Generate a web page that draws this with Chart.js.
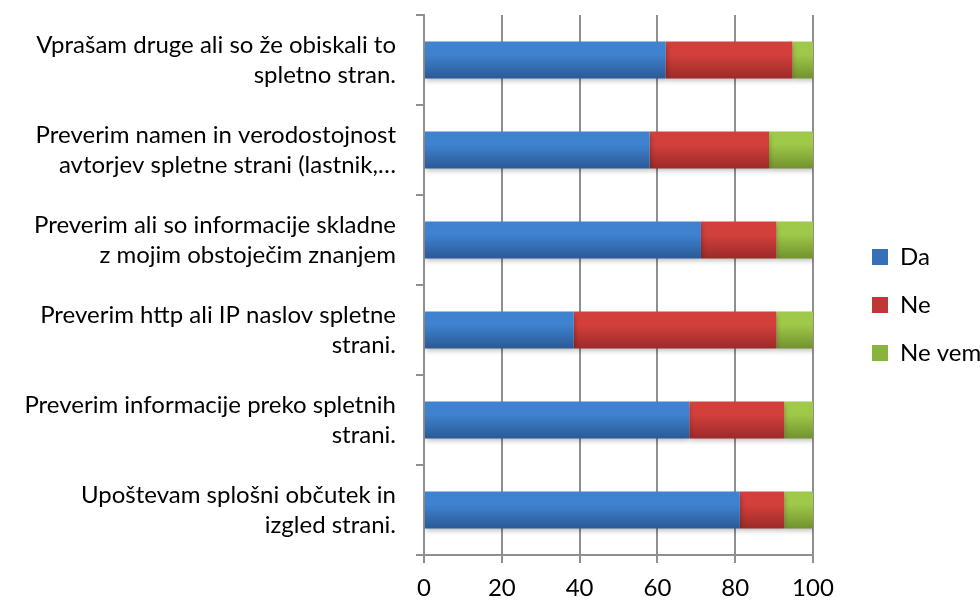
<!DOCTYPE html>
<html>
<head>
<meta charset="utf-8">
<script src="https://cdn.jsdelivr.net/npm/chart.js@4.4.0/dist/chart.umd.min.js"></script>
<style>
html,body{margin:0;padding:0;background:#ffffff;}
#c{display:block;}
</style>
</head>
<body>
<canvas id="c" width="980" height="600"></canvas>
<script>
// ---- data ----
const categories = [
  ["Vprašam druge ali so že obiskali to", "spletno stran."],
  ["Preverim namen in verodostojnost", "avtorjev spletne strani (lastnik,…"],
  ["Preverim ali so informacije skladne", "z mojim obstoječim znanjem"],
  ["Preverim http ali IP naslov spletne", "strani."],
  ["Preverim informacije preko spletnih", "strani."],
  ["Upoštevam splošni občutek in", "izgled strani."]
];
const seriesNames = ["Da", "Ne", "Ne vem"];
const daValues    = [62.1, 58.0, 71.2, 38.5, 68.2, 81.2];
const neValues    = [32.6, 30.7, 19.4, 52.1, 24.4, 11.4];
const neVemValues = [5.3, 11.3, 9.4, 9.4, 7.4, 7.4];
const xTickValues = [0, 20, 40, 60, 80, 100];

// ---- styles ----
const FONT = "Lato";
const palette = [
  {light: "#3f82d0", dark: "#2b5a96", mid: "#3570b8"},
  {light: "#d3403c", dark: "#9c2a28", mid: "#bf3836"},
  {light: "#9ec949", dark: "#72922e", mid: "#8ab23e"}
];

function gradientFill(idx) {
  return function (ctx) {
    const chart = ctx.chart;
    const y = chart.scales && chart.scales.y;
    if (!y || !chart.chartArea || ctx.type !== "data") return palette[idx].mid;
    const c = y.getPixelForValue(ctx.dataIndex);
    const band = y.height / categories.length;
    const half = band * 0.41 / 2;
    const g = chart.ctx.createLinearGradient(0, c - half, 0, c + half);
    g.addColorStop(0, palette[idx].light);
    g.addColorStop(0.35, palette[idx].light);
    g.addColorStop(1, palette[idx].dark);
    return g;
  };
}

const seriesValues = [daValues, neValues, neVemValues];
const datasets = seriesNames.map((name, i) => ({
  label: name,
  data: seriesValues[i],
  backgroundColor: gradientFill(i),
  borderWidth: 0,
  barPercentage: 0.41,
  categoryPercentage: 1.0
}));

const shadowPlugin = {
  id: "barShadow",
  beforeDatasetsDraw(chart) {
    const c = chart.ctx;
    c.save();
    c.shadowColor = "rgba(0,0,0,0.28)";
    c.shadowBlur = 5;
    c.shadowOffsetX = 1;
    c.shadowOffsetY = 3;
  },
  afterDatasetsDraw(chart) {
    chart.ctx.restore();
  }
};

const legendPlace = {
  id: "legendPlace",
  beforeLayout(chart) {
    const lg = chart.legend;
    if (lg && !lg.__patched) {
      const f = lg.fit;
      lg.fit = function () { f.call(this); this.width = 167; };
      lg.__patched = true;
    }
  },
  afterLayout(chart) {
    const lg = chart.legend;
    if (lg) {
      lg.left = 848;
      lg.top -= 5;
    }
  }
};

const gridColor = "#8f8f8f";

new Chart(document.getElementById("c"), {
  type: "bar",
  data: { labels: categories, datasets: datasets },
  plugins: [shadowPlugin, legendPlace],
  options: {
    indexAxis: "y",
    responsive: false,
    animation: false,
    layout: { padding: { top: 15, left: 0, right: 0, bottom: 0 } },
    plugins: {
      tooltip: { enabled: false },
      legend: {
        position: "right",
        labels: {
          boxWidth: 16,
          boxHeight: 16,
          padding: 24,
          color: "#000000",
          font: { family: FONT, size: 24 },
          generateLabels(chart) {
            const items = Chart.defaults.plugins.legend.labels.generateLabels(chart);
            items.forEach((it, i) => {
              it.fillStyle = palette[i].mid;
              it.strokeStyle = palette[i].mid;
              it.lineWidth = 0;
            });
            return items;
          }
        }
      }
    },
    scales: {
      x: {
        stacked: true,
        min: 0,
        max: 100,
        afterBuildTicks(scale) {
          scale.ticks = xTickValues.map(v => ({ value: v }));
        },
        afterFit(scale) { scale.height = 45; },
        grid: {
          color: gridColor,
          lineWidth: 2,
          drawOnChartArea: true,
          drawTicks: true,
          tickLength: 8,
          tickColor: gridColor
        },
        border: { display: true, color: gridColor, width: 2 },
        ticks: {
          color: "#000000",
          font: { family: FONT, size: 24 },
          padding: 11,
          maxRotation: 0
        }
      },
      y: {
        stacked: true,
        afterFit(scale) {
          scale.width = 424;
          scale.paddingTop = 0;
          scale.paddingBottom = 0;
        },
        grid: {
          offset: true,
          drawOnChartArea: false,
          drawTicks: true,
          tickLength: 8,
          color: gridColor,
          tickColor: gridColor,
          lineWidth: 2
        },
        border: { display: true, color: gridColor, width: 2 },
        ticks: {
          color: "#000000",
          font: { family: FONT, size: 24, lineHeight: 1.25 },
          padding: 20,
          autoSkip: false
        }
      }
    }
  }
});
</script>
</body>
</html>
